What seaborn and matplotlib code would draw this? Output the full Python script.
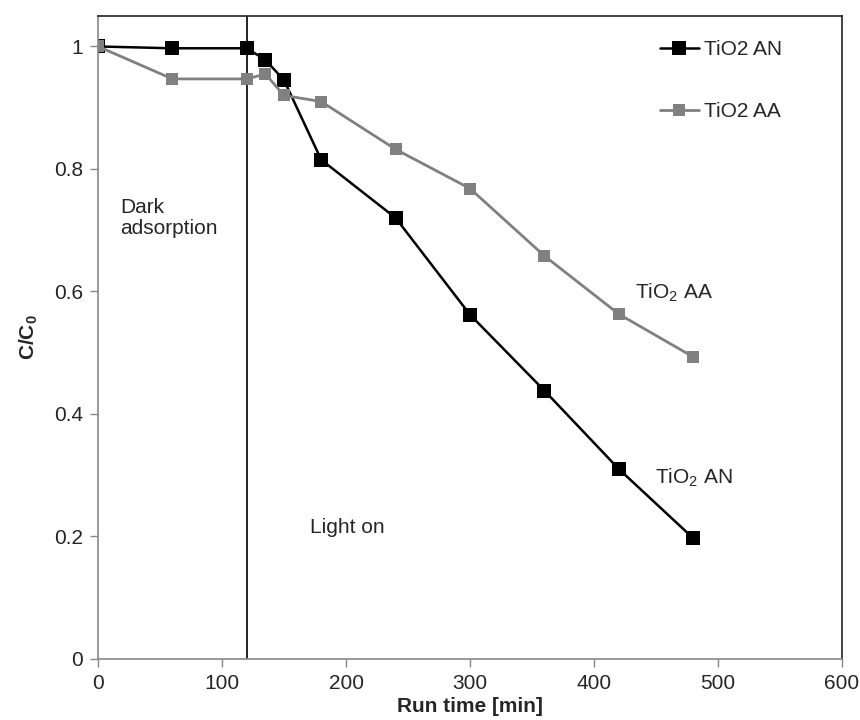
import matplotlib
matplotlib.use('Agg')
import matplotlib.pyplot as plt
import seaborn as sns
import pandas as pd

# Datos
run_time = [0, 60, 120, 135, 150, 180, 240, 300, 360, 420, 480]
c_an = [1.0, 0.997, 0.997, 0.978, 0.945, 0.815, 0.720, 0.562, 0.438, 0.310, 0.197]
c_aa = [1.0, 0.947, 0.947, 0.955, 0.920, 0.910, 0.832, 0.768, 0.658, 0.563, 0.493]
series_names = ['TiO2 AN', 'TiO2 AA']
x_ticks = [0, 100, 200, 300, 400, 500, 600]
y_ticks = [0, 0.2, 0.4, 0.6, 0.8, 1.0]
y_ticklabels = ['0', '0.2', '0.4', '0.6', '0.8', '1']
light_on_time = 120

sns.set_style('white')
plt.rcParams['font.family'] = ['Liberation Sans', 'DejaVu Sans']
plt.rcParams['mathtext.fontset'] = 'custom'
plt.rcParams['mathtext.rm'] = 'Liberation Sans'
plt.rcParams['mathtext.it'] = 'Liberation Sans:italic'
plt.rcParams['mathtext.bf'] = 'Liberation Sans:bold'

FS = 15

df = pd.concat([
    pd.DataFrame({'t': run_time, 'c': c_an, 'serie': series_names[0]}),
    pd.DataFrame({'t': run_time, 'c': c_aa, 'serie': series_names[1]}),
])

fig = plt.figure(figsize=(8.6, 7.2), dpi=100)
ax = fig.add_axes([0.114, 0.085, 0.865, 0.893])

sns.lineplot(data=df[df.serie == series_names[0]], x='t', y='c', ax=ax,
             color='black', marker='s', markersize=10, markeredgewidth=0,
             linewidth=1.8, label=series_names[0])
sns.lineplot(data=df[df.serie == series_names[1]], x='t', y='c', ax=ax,
             color='#808080', marker='s', markersize=9, markeredgewidth=0,
             linewidth=2.0, label=series_names[1])

ax.axvline(light_on_time, color='black', linewidth=1.2, zorder=1)

ax.set_xlim(0, 600)
ax.set_ylim(0, 1.05)
ax.set_xticks(x_ticks)
ax.set_yticks(y_ticks)
ax.set_yticklabels(y_ticklabels)
ax.tick_params(axis='both', direction='out', length=6, width=1, color='#888888',
               labelsize=FS, pad=5)
ax.tick_params(axis='both', which='both', bottom=True, left=True)

for s in ['left', 'bottom']:
    ax.spines[s].set_color('#888888')
    ax.spines[s].set_linewidth(1.2)
for s in ['top', 'right']:
    ax.spines[s].set_color('#222222')
    ax.spines[s].set_linewidth(1.2)

ax.set_xlabel('Run time [min]', fontsize=FS, fontweight='bold', labelpad=3)
ax.set_ylabel('C/C$_\\mathbf{0}$', fontsize=FS, fontweight='bold', labelpad=10)

# Anotaciones
ax.text(18, 0.752, 'Dark\nadsorption', fontsize=FS, va='top', ha='left', linespacing=1.1)
ax.text(171, 0.215, 'Light on', fontsize=FS, va='center', ha='left')
ax.text(433, 0.598, 'TiO$_2$ AA', fontsize=FS, va='center', ha='left')
ax.text(449, 0.296, 'TiO$_2$ AN', fontsize=FS, va='center', ha='left')

leg = ax.legend(loc='upper left', bbox_to_anchor=(0.755, 0.962), frameon=False,
                borderpad=0, borderaxespad=0, fontsize=FS, handlelength=1.9,
                handletextpad=0.25, labelspacing=2.05)

fig.savefig('out.png', dpi=100)
plt.close()
